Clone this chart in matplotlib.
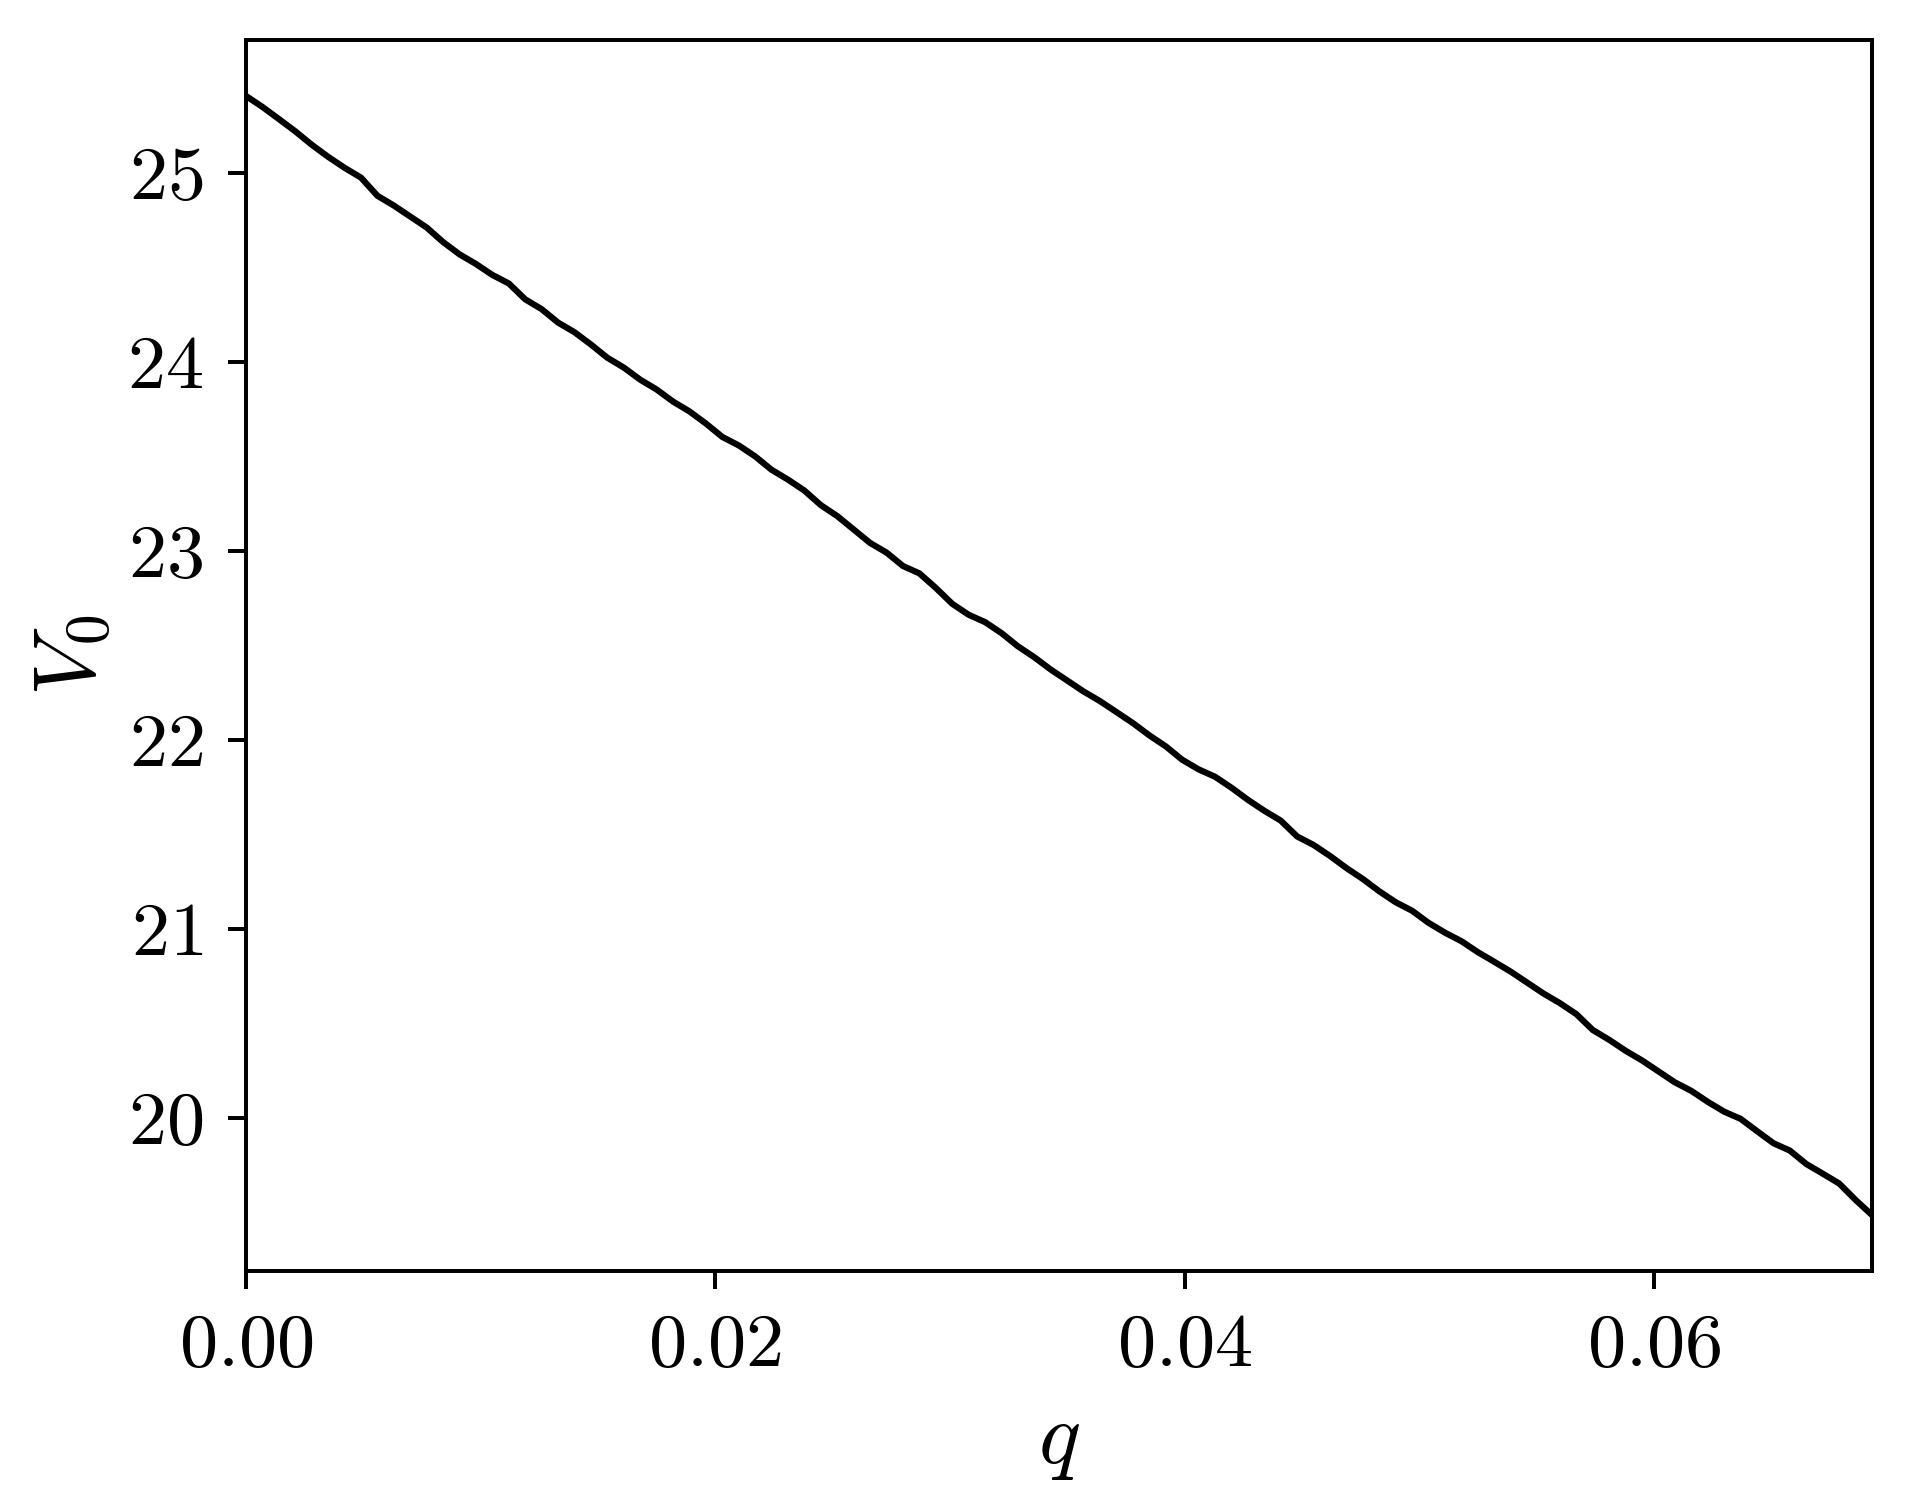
import matplotlib
matplotlib.use("Agg")
import matplotlib.pyplot as plt
import numpy as np

plt.rcParams.update({"font.family": "serif", "font.serif": ["cmr10"],
                     "mathtext.fontset": "cm", "axes.formatter.use_mathtext": True,
                     "axes.unicode_minus": False})

# q grid (100 samples) and V_0
q = np.linspace(0.0, 0.0693, 100)
V0 = [25.406, 25.348, 25.284, 25.219, 25.148, 25.084, 25.026, 24.974, 24.878, 24.826,
      24.768, 24.710, 24.633, 24.568, 24.517, 24.459, 24.414, 24.330, 24.278, 24.207,
      24.156, 24.091, 24.021, 23.969, 23.905, 23.853, 23.789, 23.737, 23.673, 23.602,
      23.557, 23.499, 23.428, 23.376, 23.318, 23.241, 23.183, 23.112, 23.041, 22.990,
      22.919, 22.880, 22.803, 22.719, 22.661, 22.622, 22.564, 22.494, 22.436, 22.371,
      22.313, 22.255, 22.204, 22.146, 22.088, 22.023, 21.965, 21.894, 21.843, 21.804,
      21.746, 21.682, 21.624, 21.572, 21.488, 21.443, 21.385, 21.321, 21.263, 21.198,
      21.140, 21.095, 21.031, 20.979, 20.934, 20.876, 20.825, 20.773, 20.715, 20.657,
      20.606, 20.548, 20.464, 20.412, 20.354, 20.303, 20.245, 20.187, 20.142, 20.084,
      20.032, 19.994, 19.929, 19.865, 19.826, 19.755, 19.704, 19.652, 19.565, 19.485]

fig = plt.figure(figsize=(1911 / 300, 1512 / 300), dpi=300)
ax = fig.add_axes([246 / 1911, 1 - 1271 / 1512, (1872 - 246) / 1911, (1271 - 40) / 1512])
ax.plot(q, V0, color="black", linewidth=1.5)
ax.set_xlim(q[0], q[-1])
ax.set_xticks([0.0, 0.02, 0.04, 0.06])
ax.set_yticks([20, 21, 22, 23, 24, 25])
ax.tick_params(labelsize=18.3, length=4.3, width=0.95, pad=6)
for s in ax.spines.values():
    s.set_linewidth(0.95)
ax.set_xlabel("$q$", fontsize=21, labelpad=5.5)
ax.set_ylabel("$V_0$", fontsize=21, labelpad=3.5)
fig.savefig("out.png", dpi=300)
plt.close()
